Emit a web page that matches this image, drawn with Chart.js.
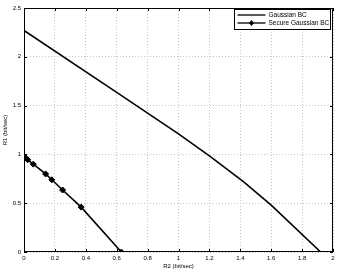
<!DOCTYPE html>
<html>
<head>
<meta charset="utf-8">
<script src="https://cdn.jsdelivr.net/npm/chart.js@4"></script>
<style>
  html, body { margin: 0; padding: 0; background: #fff; }
  #wrap { width: 339px; height: 272px; }
</style>
</head>
<body>
<div id="wrap"><canvas id="c"></canvas></div>
<script>
// values
const gaussR2 = [0, 0.6, 1.0, 1.2, 1.42, 1.6, 1.92];
const gaussR1 = [2.27, 1.635, 1.21, 0.985, 0.72, 0.48, 0];
const secureR2 = [0, 0.01, 0.024, 0.06, 0.14, 0.18, 0.25, 0.37, 0.63];
const secureR1 = [0.98, 0.965, 0.945, 0.90, 0.80, 0.74, 0.635, 0.46, 0];
const seriesNames = ['Gaussian BC', 'Secure Gaussian BC'];
const xTicks = [0, 0.2, 0.4, 0.6, 0.8, 1, 1.2, 1.4, 1.6, 1.8, 2];
const yTicks = [0, 0.5, 1, 1.5, 2, 2.5];

const font = 'Liberation Sans, Arial, sans-serif';

const toPts = (xs, ys) => xs.map((x, i) => ({ x: x, y: ys[i] }));

// matlab style frame, inner ticks and boxed legend
const framePlugin = {
  id: 'frame',
  afterDatasetsDraw(chart) {
    const ctx = chart.ctx;
    const a = chart.chartArea;
    const xs = chart.scales.x, ys = chart.scales.y;
    ctx.save();
    ctx.strokeStyle = '#000';
    ctx.lineWidth = 1;
    ctx.beginPath();
    xTicks.forEach(v => {
      const px = Math.round(xs.getPixelForValue(v)) + 0.5;
      ctx.moveTo(px, a.bottom); ctx.lineTo(px, a.bottom - 3);
      ctx.moveTo(px, a.top); ctx.lineTo(px, a.top + 3);
    });
    yTicks.forEach(v => {
      const py = Math.round(ys.getPixelForValue(v)) + 0.5;
      ctx.moveTo(a.left, py); ctx.lineTo(a.left + 3, py);
      ctx.moveTo(a.right, py); ctx.lineTo(a.right - 3, py);
    });
    ctx.stroke();
    ctx.strokeRect(Math.round(a.left) + 0.5, Math.round(a.top) + 0.5,
      Math.round(a.right - a.left) - 1, Math.round(a.bottom - a.top) - 1);

    // legend
    const bx = 234.5, by = 9.5, bw = 96, bh = 20;
    ctx.fillStyle = '#fff';
    ctx.fillRect(bx, by, bw, bh);
    ctx.strokeRect(bx, by, bw, bh);
    ctx.font = '6.5px ' + font;
    ctx.textBaseline = 'middle';
    chart.data.datasets.forEach((ds, i) => {
      const ly = by + 5.5 + i * 8;
      ctx.strokeStyle = '#000';
      ctx.lineWidth = 1.3;
      ctx.beginPath();
      ctx.moveTo(bx + 3, ly); ctx.lineTo(bx + 31, ly);
      ctx.stroke();
      if (ds.pointRadius > 0) {
        ctx.fillStyle = '#000';
        ctx.beginPath();
        ctx.moveTo(bx + 17, ly - 3);
        ctx.lineTo(bx + 19.5, ly);
        ctx.lineTo(bx + 17, ly + 3);
        ctx.lineTo(bx + 14.5, ly);
        ctx.closePath();
        ctx.fill();
      }
      ctx.fillStyle = '#000';
      ctx.fillText(ds.label, bx + 34, ly + 0.5);
    });
    ctx.restore();
  }
};

new Chart(document.getElementById('c'), {
  type: 'scatter',
  data: {
    datasets: [
      {
        label: seriesNames[0],
        data: toPts(gaussR2, gaussR1),
        showLine: true,
        borderColor: '#000',
        borderWidth: 1.6,
        pointRadius: 0,
        tension: 0
      },
      {
        label: seriesNames[1],
        data: toPts(secureR2, secureR1),
        showLine: true,
        borderColor: '#000',
        backgroundColor: '#000',
        borderWidth: 1.6,
        pointStyle: 'rectRot',
        pointRadius: 3,
        pointBorderWidth: 1,
        tension: 0
      }
    ]
  },
  options: {
    responsive: true,
    maintainAspectRatio: false,
    animation: false,
    layout: { padding: { top: 8, right: 6, left: 0, bottom: 0 } },
    plugins: {
      legend: { display: false },
      tooltip: { enabled: false }
    },
    scales: {
      x: {
        type: 'linear',
        min: 0,
        max: 2,
        afterFit: s => { s.height = 20; },
        afterBuildTicks: s => { s.ticks = xTicks.map(v => ({ value: v })); },
        ticks: {
          color: '#000',
          font: { family: font, size: 6 },
          padding: 3,
          maxRotation: 0,
          callback: v => String(v)
        },
        grid: {
          color: '#b8b8b8',
          lineWidth: 0.8,
          drawTicks: false
        },
        border: { display: false, dash: [1, 2] },
        title: {
          display: true,
          text: 'R2 (bit/sec)',
          color: '#000',
          font: { family: font, size: 6 },
          padding: { top: 0, bottom: 2 }
        }
      },
      y: {
        type: 'linear',
        min: 0,
        max: 2.5,
        afterFit: s => { s.width = 24; },
        afterBuildTicks: s => { s.ticks = yTicks.map(v => ({ value: v })); },
        ticks: {
          color: '#000',
          font: { family: font, size: 6 },
          padding: 3,
          callback: v => String(v)
        },
        grid: {
          color: '#b8b8b8',
          lineWidth: 0.8,
          drawTicks: false
        },
        border: { display: false, dash: [1, 2] },
        title: {
          display: true,
          text: 'R1 (bit/sec)',
          color: '#000',
          font: { family: font, size: 6 },
          padding: { top: 2, bottom: 0 }
        }
      }
    }
  },
  plugins: [framePlugin]
});
</script>
</body>
</html>
